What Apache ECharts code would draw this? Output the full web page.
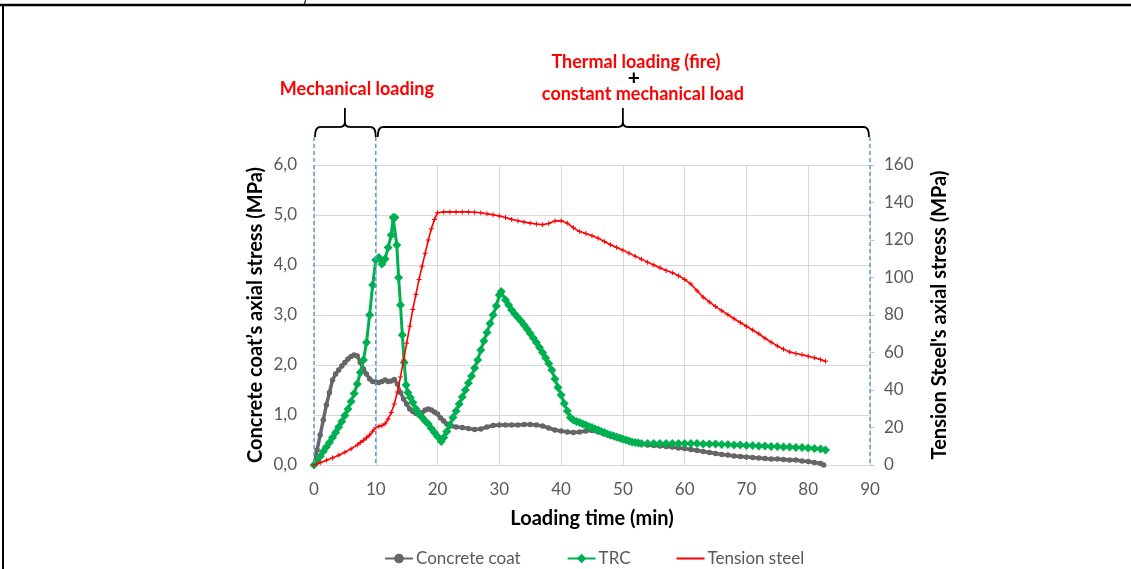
<!DOCTYPE html>
<html>
<head>
<meta charset="utf-8">
<script src="https://cdn.jsdelivr.net/npm/echarts@6/dist/echarts.min.js"></script>
<style>
  html, body { margin: 0; padding: 0; background: #fff; }
  #chart { width: 1131px; height: 569px; }
</style>
</head>
<body>
<div id="chart"></div>
<script>
// Concrete coat axial stress (MPa) vs loading time (min)
const coatPoints = [
  [0,0.0],[0.5,0.3],[1,0.6],[1.5,0.9],[2,1.2],[2.5,1.45],[3,1.7],[3.5,1.82],[4,1.9],[4.5,1.98],
  [5,2.05],[5.5,2.12],[6,2.17],[6.5,2.2],[7,2.18],[7.5,2.05],[8,1.92],[8.5,1.82],[9,1.72],[9.5,1.67],
  [10,1.66],[10.5,1.65],[11,1.67],[11.5,1.7],[12,1.67],[12.5,1.68],[13,1.71],[13.5,1.62],[14,1.45],[14.5,1.32],
  [15,1.22],[15.5,1.12],[16,1.07],[16.5,1.03],[17,1.0],[17.5,1.05],[18,1.1],[18.5,1.12],[19,1.1],[19.5,1.06],
  [20,1.02],[20.5,0.94],[21,0.88],[21.5,0.82],[22,0.78],[23,0.76],[24,0.75],[25,0.73],[26,0.71],[27,0.72],
  [28,0.76],[29,0.79],[30,0.8],[31,0.8],[32,0.8],[33,0.8],[34,0.81],[35,0.81],[36,0.8],[37,0.78],
  [38,0.74],[39,0.7],[40,0.68],[41,0.66],[42,0.65],[43,0.66],[44,0.68],[45,0.69],[46,0.66],[47,0.62],
  [48,0.58],[49,0.54],[50,0.5],[51,0.47],[52,0.44],[53,0.42],[54,0.4],[55,0.39],[56,0.38],[57,0.37],
  [58,0.36],[59,0.34],[60,0.33],[61,0.31],[62,0.29],[63,0.27],[64,0.25],[65,0.23],[66,0.21],[67,0.2],
  [68,0.18],[69,0.17],[70,0.16],[71,0.15],[72,0.14],[73,0.13],[74,0.12],[75,0.12],[76,0.11],[77,0.1],
  [78,0.1],[79,0.08],[80,0.07],[81,0.05],[82,0.03],[82.5,0.0]
];

// TRC axial stress (MPa) vs loading time (min)
const trcPoints = [
  [0,0],[0.5,0.08],[1,0.17],[1.5,0.27],[2,0.36],[2.5,0.45],[3,0.55],[3.5,0.65],[4,0.76],[4.5,0.87],
  [5,0.99],[5.5,1.12],[6,1.27],[6.5,1.43],[7,1.62],[7.5,1.85],[8,2.1],[8.5,2.45],[9,3.0],[9.5,3.6],
  [10,4.1],[10.5,4.15],[11,4.02],[11.5,4.12],[12,4.35],[12.5,4.6],[12.8,4.95],[13.1,4.95],[13.4,4.4],[13.7,3.75],
  [14,3.2],[14.3,2.6],[14.6,2.05],[14.9,1.6],[15.2,1.45],[15.6,1.35],[16,1.25],[16.5,1.12],[17,1.03],[17.5,0.95],
  [18,0.88],[18.5,0.82],[19,0.73],[19.5,0.65],[20,0.57],[20.6,0.47],[21,0.55],[21.5,0.67],[22,0.8],[22.5,0.95],
  [23,1.08],[23.5,1.22],[24,1.36],[24.5,1.5],[25,1.64],[25.5,1.78],[26,1.94],[26.5,2.1],[27,2.3],[27.5,2.48],
  [28,2.65],[28.5,2.83],[29,3.0],[29.5,3.18],[30,3.4],[30.3,3.47],[31,3.3],[31.5,3.2],[32,3.1],[32.5,3.02],
  [33,2.95],[33.5,2.88],[34,2.8],[34.5,2.72],[35,2.63],[35.5,2.54],[36,2.45],[36.5,2.35],[37,2.25],[37.5,2.14],
  [38,2.03],[38.5,1.9],[39,1.72],[39.5,1.55],[40,1.4],[40.5,1.23],[41,1.08],[41.5,0.95],[42,0.9],[42.5,0.87],
  [43,0.85],[43.5,0.82],[44,0.8],[44.5,0.77],[45,0.75],[45.5,0.72],[46,0.7],[46.5,0.67],[47,0.65],[47.5,0.62],
  [48,0.6],[48.5,0.58],[49,0.56],[49.5,0.54],[50,0.52],[50.5,0.5],[51,0.48],[51.5,0.46],[52,0.45],[52.5,0.44],
  [53,0.43],[54,0.43],[55,0.43],[56,0.43],[57,0.43],[58,0.43],[59,0.43],[60,0.43],[61,0.43],[62,0.43],
  [63,0.42],[64,0.42],[65,0.42],[66,0.41],[67,0.41],[68,0.4],[69,0.4],[70,0.39],[71,0.39],[72,0.38],
  [73,0.38],[74,0.37],[75,0.37],[76,0.36],[77,0.36],[78,0.35],[79,0.35],[80,0.34],[81,0.33],[82,0.32],
  [82.8,0.3]
];

// Tension steel axial stress (MPa) vs loading time (min)
const steelPoints = [
  [0,0],[1,1.2],[2,2.5],[3,3.8],[4,5.2],[5,6.8],[6,8.6],[7,10.7],[7.5,12],[8,13.2],
  [8.5,14.5],[9,16],[9.5,18],[10,20],[10.5,20.7],[11,21],[11.5,22],[12,24.5],[12.5,28],[13,32.5],
  [13.5,39],[14,47],[14.5,56],[15,65],[15.5,74],[16,83],[16.5,91],[17,99],[17.5,106],[18,113],
  [18.5,120],[19,126],[19.5,131],[20,134.5],[21,135],[22,135],[23,135],[24,135],[25,135],[26,134.8],
  [27,134.5],[28,134],[29,133.5],[30,132.8],[31,132],[32,131],[33,130.3],[34,129.6],[35,129],[36,128.5],
  [37,128.2],[38,128.8],[39,130.2],[40,130.3],[41,129],[42,126.5],[43,124.5],[44,123.5],[45,122.3],[46,121],
  [47,119.2],[48,117.5],[49,116],[50,114.6],[51,113],[52,111.4],[53,109.8],[54,108.2],[55,106.7],[56,105.2],
  [57,103.8],[58,102.5],[59,101],[60,99],[61,96.5],[62,93],[63,89.5],[64,87],[65,84.5],[66,82.3],
  [67,80.2],[68,78],[69,76],[70,74],[71,72],[72,70],[73,67.6],[74,65.5],[75,63.5],[76,61.8],
  [77,60.3],[78,59.5],[79,58.8],[80,58],[81,57.2],[82,56.3],[82.8,55.3]
];

const seriesNames = ['Concrete coat', 'TRC', 'Tension steel'];
const phaseLabels = ['Mechanical loading', 'Thermal loading (fire)', '+', 'constant mechanical load'];
const phaseBounds = [0, 10, 90];      // minutes where the loading phases start/end
const phaseCentres = [5, 50];         // bracket tips

const FONT = 'Lato, "Open Sans", sans-serif';
const AXIS_GREY = '#595959';
const GRID_GREY = '#d9d9d9';

const chart = echarts.init(document.getElementById('chart'), null, { renderer: 'canvas' });

const plusSymbol = 'path://M4,0h2v4h4v2h-4v4h-2v-4h-4v-2h4z';

chart.setOption({
  animation: false,
  backgroundColor: '#ffffff',
  textStyle: { fontFamily: FONT },
  grid: { left: 314, right: 261, top: 165, bottom: 104, containLabel: false },
  legend: {
    left: 379, top: 545,
    itemWidth: 28, itemHeight: 12, itemGap: 46,
    textStyle: { color: AXIS_GREY, fontSize: 17, fontFamily: FONT, padding: [0, 0, 0, -2] },
    data: [
      { name: seriesNames[0] },
      { name: seriesNames[1] },
      { name: seriesNames[2], icon: 'path://M0,0H28V2H0Z' }
    ]
  },
  xAxis: {
    type: 'value', min: 0, max: 90, interval: 10,
    name: 'Loading time (min)', nameLocation: 'middle', nameGap: 44,
    nameTextStyle: { color: '#000', fontSize: 20, fontWeight: 'bold', fontFamily: FONT },
    axisLine: { show: true, lineStyle: { color: GRID_GREY, width: 1 } },
    axisTick: { show: false },
    axisLabel: { color: AXIS_GREY, fontSize: 17, margin: 16, fontFamily: FONT },
    splitLine: { show: true, lineStyle: { color: GRID_GREY, width: 1 } }
  },
  yAxis: [
    {
      type: 'value', min: 0, max: 6, interval: 1,
      name: 'Concrete coat\u2019s axial stress (MPa)', nameLocation: 'middle', nameGap: 48,
      nameTextStyle: { color: '#000', fontSize: 20, fontWeight: 'bold', fontFamily: FONT },
      axisLine: { show: false }, axisTick: { show: false },
      axisLabel: {
        color: AXIS_GREY, fontSize: 17, margin: 17, fontFamily: FONT,
        formatter: v => v.toFixed(1).replace('.', ',')
      },
      splitLine: { show: true, lineStyle: { color: GRID_GREY, width: 1 } }
    },
    {
      type: 'value', min: 0, max: 160, interval: 20, position: 'right',
      name: "Tension Steel's axial stress (MPa)", nameLocation: 'middle', nameGap: 60,
      nameTextStyle: { color: '#000', fontSize: 20, fontWeight: 'bold', fontFamily: FONT },
      axisLine: { show: true, lineStyle: { color: GRID_GREY, width: 1 } },
      axisTick: { show: true, inside: false, length: 4, lineStyle: { color: '#bfbfbf' } },
      axisLabel: { color: AXIS_GREY, fontSize: 17, margin: 14, fontFamily: FONT },
      splitLine: { show: false }
    }
  ],
  series: [
    {
      name: seriesNames[0], type: 'line', data: coatPoints, yAxisIndex: 0,
      symbol: 'circle', symbolSize: 5.5, showSymbol: true,
      lineStyle: { color: '#666666', width: 3.5 },
      itemStyle: { color: '#666666' }, z: 2
    },
    {
      name: seriesNames[1], type: 'line', data: trcPoints, yAxisIndex: 0,
      symbol: 'diamond', symbolSize: 9, showSymbol: true,
      lineStyle: { color: '#00B050', width: 3 },
      itemStyle: { color: '#00B050' }, z: 3
    },
    {
      name: seriesNames[2], type: 'line', data: steelPoints, yAxisIndex: 1,
      symbol: plusSymbol, symbolSize: 5, showSymbol: true,
      lineStyle: { color: '#FF0000', width: 1.6 },
      itemStyle: { color: '#FF0000' }, z: 4
    }
  ]
});

// Phase brackets, dashed phase boundaries and page frame
const toPx = (t, v) => chart.convertToPixel({ xAxisIndex: 0, yAxisIndex: 0 }, [t, v]);
const xAt = t => toPx(t, 0)[0];
const yBase = toPx(0, 0)[1];

const BRACE_Y = 127, TIP_Y = 108, END_Y = 137;
const braceStyle = { stroke: '#000', lineWidth: 1.8, fill: null };

function brace(xa, xb, xc) {
  const r = 5;
  return [
    { type: 'bezierCurve', shape: { x1: xa, y1: END_Y, cpx1: xa, cpy1: BRACE_Y, x2: xa + r, y2: BRACE_Y }, style: braceStyle },
    { type: 'line', shape: { x1: xa + r, y1: BRACE_Y, x2: xc - r, y2: BRACE_Y }, style: braceStyle },
    { type: 'bezierCurve', shape: { x1: xc - r, y1: BRACE_Y, cpx1: xc, cpy1: BRACE_Y, x2: xc, y2: BRACE_Y - r }, style: braceStyle },
    { type: 'bezierCurve', shape: { x1: xc + r, y1: BRACE_Y, cpx1: xc, cpy1: BRACE_Y, x2: xc, y2: BRACE_Y - r }, style: braceStyle },
    { type: 'line', shape: { x1: xc, y1: BRACE_Y - r, x2: xc, y2: TIP_Y }, style: braceStyle },
    { type: 'line', shape: { x1: xc + r, y1: BRACE_Y, x2: xb - r, y2: BRACE_Y }, style: braceStyle },
    { type: 'bezierCurve', shape: { x1: xb - r, y1: BRACE_Y, cpx1: xb, cpy1: BRACE_Y, x2: xb, y2: END_Y }, style: braceStyle }
  ];
}

const xs = phaseBounds.map(xAt);
const xc = phaseCentres.map(xAt);

const graphics = [];
// dashed boundaries of the loading phases
xs.forEach(x => {
  graphics.push({
    type: 'line', z: 10,
    shape: { x1: x, y1: END_Y, x2: x, y2: yBase },
    style: { stroke: '#5B9BD5', lineWidth: 1.5, lineDash: [4, 3] }
  });
});
graphics.push(...brace(xs[0] + 1, xs[1], xc[0]));
graphics.push(...brace(xs[1] + 2, xs[2] - 1, xc[1]));

const labelFont = 'bold 18px ' + FONT;
graphics.push(
  { type: 'text', style: { text: phaseLabels[0], x: xc[0] + 12, y: 89, font: labelFont, fill: '#FF0000', align: 'center', verticalAlign: 'middle' } },
  { type: 'text', style: { text: phaseLabels[1], x: xc[1] + 13, y: 62, font: labelFont, fill: '#FF0000', align: 'center', verticalAlign: 'middle' } },
  { type: 'text', style: { text: phaseLabels[2], x: xc[1] + 11, y: 78, font: 'bold 21px ' + FONT, fill: '#000000', align: 'center', verticalAlign: 'middle' } },
  { type: 'text', style: { text: phaseLabels[3], x: xc[1] + 20, y: 94, font: labelFont, fill: '#FF0000', align: 'center', verticalAlign: 'middle' } }
);

// surrounding frame of the figure cell
graphics.push(
  { type: 'line', shape: { x1: 0, y1: 5, x2: 1131, y2: 5 }, style: { stroke: '#000', lineWidth: 2.5 } },
  { type: 'line', shape: { x1: 3, y1: 5, x2: 3, y2: 569 }, style: { stroke: '#000', lineWidth: 2 } },
  { type: 'text', style: { text: ')', x: 303, y: -9, font: '14px ' + FONT, fill: '#000' } }
);

chart.setOption({ graphic: graphics });
</script>
</body>
</html>
